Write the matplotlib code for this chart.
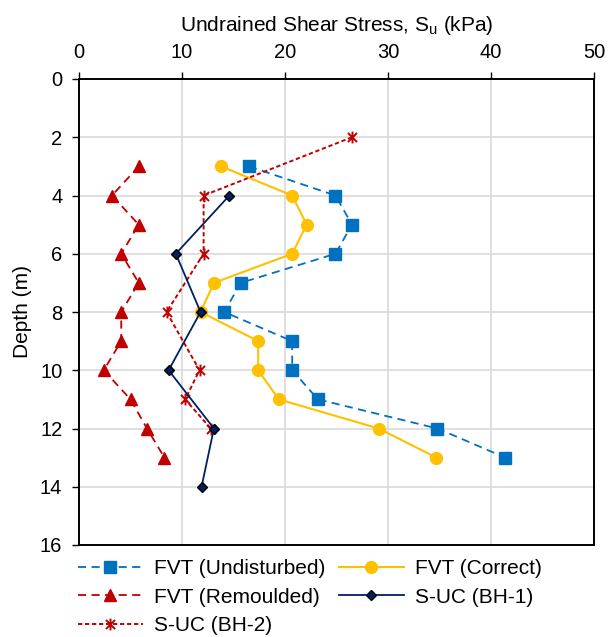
import matplotlib
matplotlib.use("Agg")
import matplotlib.pyplot as plt
from matplotlib.path import Path

plt.rcParams["font.family"] = ["Liberation Sans", "DejaVu Sans"]
plt.rcParams["mathtext.fontset"] = "custom"
plt.rcParams["mathtext.rm"] = "Liberation Sans"

# Field vane tests (FVT) and unconfined compression (S-UC) results
depth_fvt = [3, 4, 5, 6, 7, 8, 9, 10, 11, 12, 13]
su_undisturbed = [16.5, 24.9, 26.5, 24.9, 15.7, 14.1, 20.7, 20.7, 23.2, 34.8, 41.4]
su_correct = [13.8, 20.7, 22.1, 20.7, 13.1, 11.8, 17.4, 17.4, 19.4, 29.1, 34.7]
su_remoulded = [5.8, 3.2, 5.8, 4.1, 5.8, 4.1, 4.1, 2.4, 5.0, 6.6, 8.3]

depth_bh1 = [4, 6, 8, 10, 12, 14]
su_bh1 = [14.6, 9.4, 11.8, 8.7, 13.1, 11.9]

depth_bh2 = [2, 4, 6, 8, 10, 11, 12]
su_bh2 = [26.5, 12.1, 12.1, 8.5, 11.7, 10.3, 12.8]

x_ticks = [0, 10, 20, 30, 40, 50]
y_ticks = [0, 2, 4, 6, 8, 10, 12, 14, 16]

# six-armed star marker: an x crossed by a vertical stroke
star = Path([(-1, -1), (1, 1), (-1, 1), (1, -1), (0, -1.3), (0, 1.3)],
            [Path.MOVETO, Path.LINETO, Path.MOVETO, Path.LINETO, Path.MOVETO, Path.LINETO])

fig = plt.figure(figsize=(6.16, 6.37), dpi=100)
ax = fig.add_axes([79 / 616, 1 - 545 / 637, (594 - 79) / 616, (545 - 79) / 637])

blue = "#0070C0"
gold = "#FFC000"
red = "#C00000"
navy = "#002060"

h_und, = ax.plot(su_undisturbed, depth_fvt, color=blue, lw=1.3, dashes=(4.5, 3),
                 marker="s", ms=8.5, mfc=blue, mec=blue, label="FVT (Undisturbed)", zorder=3)
h_cor, = ax.plot(su_correct, depth_fvt, color=gold, lw=1.5, linestyle="-",
                 marker="o", ms=8.5, mfc=gold, mec=gold, label="FVT (Correct)", zorder=3)
h_rem, = ax.plot(su_remoulded, depth_fvt, color=red, lw=1.3, dashes=(4.5, 3),
                 marker="^", ms=8.5, mfc=red, mec=red, label="FVT (Remoulded)", zorder=3)
h_bh1, = ax.plot(su_bh1, depth_bh1, color=navy, lw=1.3, linestyle="-",
                 marker="D", ms=5.5, mfc=navy, mec="black", mew=1.0, label="S-UC (BH-1)", zorder=4)
h_bh2, = ax.plot(su_bh2, depth_bh2, color=red, lw=1.4, dashes=(2.2, 1.4),
                 marker=star, ms=8.5, mfc="none", mec=red, mew=1.4, label="S-UC (BH-2)", zorder=3)

ax.set_xlim(0, 50)
ax.set_ylim(16, 0)
ax.set_xticks(x_ticks)
ax.set_yticks(y_ticks)
ax.xaxis.tick_top()
ax.xaxis.set_label_position("top")
ax.tick_params(axis="both", which="major", direction="out", length=5, width=1.0,
               labelsize=14.5, pad=7, color="black")
ax.grid(True, color="#D9D9D9", lw=1.2)
ax.set_axisbelow(True)
for s in ax.spines.values():
    s.set_color("black")
    s.set_linewidth(1.4)

ax.set_xlabel(r"Undrained Shear Stress, S$_{\rm u}$ (kPa)", fontsize=15, labelpad=9)
ax.set_ylabel("Depth (m)", fontsize=15, labelpad=6)

fig.legend(handles=[h_und, h_rem, h_bh2, h_cor, h_bh1], ncol=2,
           loc="upper left", bbox_to_anchor=(74 / 616, 1 - 555 / 637),
           frameon=False, fontsize=15, handlelength=3.1, handletextpad=0.55,
           columnspacing=0.65, labelspacing=0.45, borderaxespad=0, borderpad=0.2)

fig.savefig("out.png", dpi=100)
